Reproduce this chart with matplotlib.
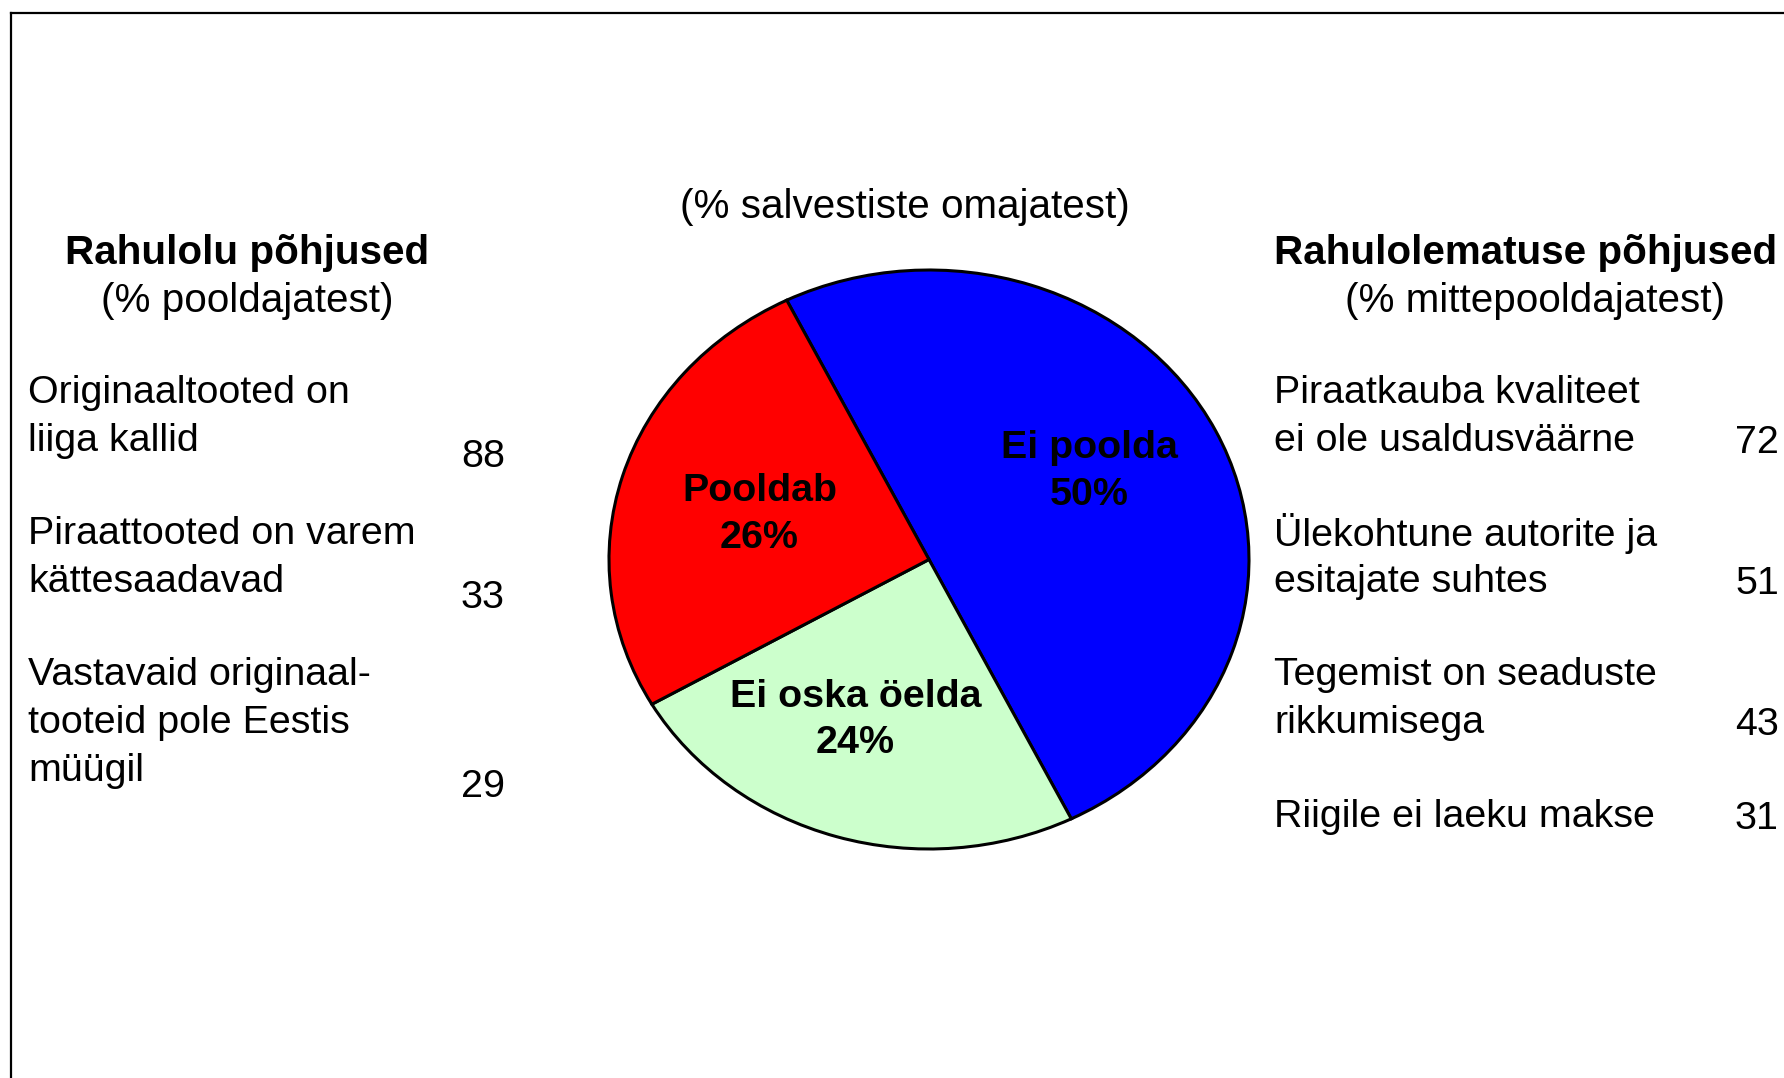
import matplotlib
matplotlib.use("Agg")
import matplotlib.pyplot as plt
from matplotlib.lines import Line2D

# ---------------- data ----------------
pie_labels = ["Ei poolda", "Ei oska öelda", "Pooldab"]
pie_values = [50, 24, 26]
pie_colors = ["#0000FF", "#CCFFCC", "#FF0000"]

subtitle = "(% salvestiste omajatest)"

left_title = "Rahulolu põhjused"
left_sub = "(% pooldajatest)"
left_items = ["Originaaltooted on\nliiga kallid",
              "Piraattooted on varem\nkättesaadavad",
              "Vastavaid originaal-\ntooteid pole Eestis\nmüügil"]
left_values = [88, 33, 29]

right_title = "Rahulolematuse põhjused"
right_sub = "(% mittepooldajatest)"
right_items = ["Piraatkauba kvaliteet\nei ole usaldusväärne",
               "Ülekohtune autorite ja\nesitajate suhtes",
               "Tegemist on seaduste\nrikkumisega",
               "Riigile ei laeku makse"]
right_values = [72, 51, 43, 31]

# ---------------- figure ----------------
W, H = 1784, 1078
DPI = 100
fig = plt.figure(figsize=(W / DPI, H / DPI), dpi=DPI)
fig.patch.set_facecolor("white")
FONT = ["Liberation Sans", "DejaVu Sans"]
FS = 39.4 * 72 / DPI  # ~39 px em
FS_T = 40.4 * 72 / DPI
DY = 3  # small downward shift of text rows


def fx(x):
    return x / W


def fy(y):
    return 1 - y / H


def put(x, y, s, ha="left", bold=False, fs=FS):
    fig.text(fx(x), fy(y + DY), s, ha=ha, va="center", fontsize=fs,
             family=FONT, fontweight="bold" if bold else "normal", color="black")


# outer frame (top and left edges visible)
fig.add_artist(Line2D([fx(11), fx(W + 5)], [fy(13), fy(13)], color="black", lw=1.6,
                      transform=fig.transFigure))
fig.add_artist(Line2D([fx(11), fx(11)], [fy(13), fy(H + 5)], color="black", lw=1.6,
                      transform=fig.transFigure))

# ---------------- pie ----------------
pl, pr, pt, pb = 609, 1249, 270, 849
ax = fig.add_axes([fx(pl), fy(pb), (pr - pl) / W, (pb - pt) / H])
wedges, _ = ax.pie(pie_values, colors=pie_colors, startangle=116.4, counterclock=False,
                   radius=1.0, wedgeprops=dict(edgecolor="black", linewidth=2.2))
ax.set_aspect("auto")
ax.set_xlim(-1.0, 1.0)
ax.set_ylim(-1.0, 1.0)
ax.axis("off")
for w in wedges:
    w.set_clip_on(False)

label_pos = [(0.50, 0.305), (-0.23, -0.555), (-0.53, 0.155)]
for (lx, ly), name, v in zip(label_pos, pie_labels, pie_values):
    ax.text(lx, ly, f"{name}\n{v}%", ha="center", va="center", fontsize=FS,
            family=FONT, fontweight="bold", linespacing=1.38, color="black")

# ---------------- texts ----------------
put(905, 204, subtitle, ha="center", fs=FS_T)

put(247, 250, left_title, ha="center", bold=True, fs=FS_T)
put(247, 298, left_sub, ha="center", fs=FS_T)
put(1526, 250, right_title, ha="center", bold=True, fs=FS_T)
put(1535, 298, right_sub, ha="center", fs=FS_T)

LS = 48
left_starts = [390, 531, 672]
left_num_y = [454, 595, 784]
for y0, item, v, ny in zip(left_starts, left_items, left_values, left_num_y):
    for i, line in enumerate(item.split("\n")):
        put(28, y0 + i * LS, line)
    put(461, ny, str(v))

right_starts = [390, 531, 672, 814]
for y0, item, v in zip(right_starts, right_items, right_values):
    lines = item.split("\n")
    for i, line in enumerate(lines):
        put(1274, y0 + i * LS, line)
    put(1735, y0 + (len(lines) - 1) * LS + 2, str(v))

fig.savefig("out.png", dpi=DPI, facecolor="white")
